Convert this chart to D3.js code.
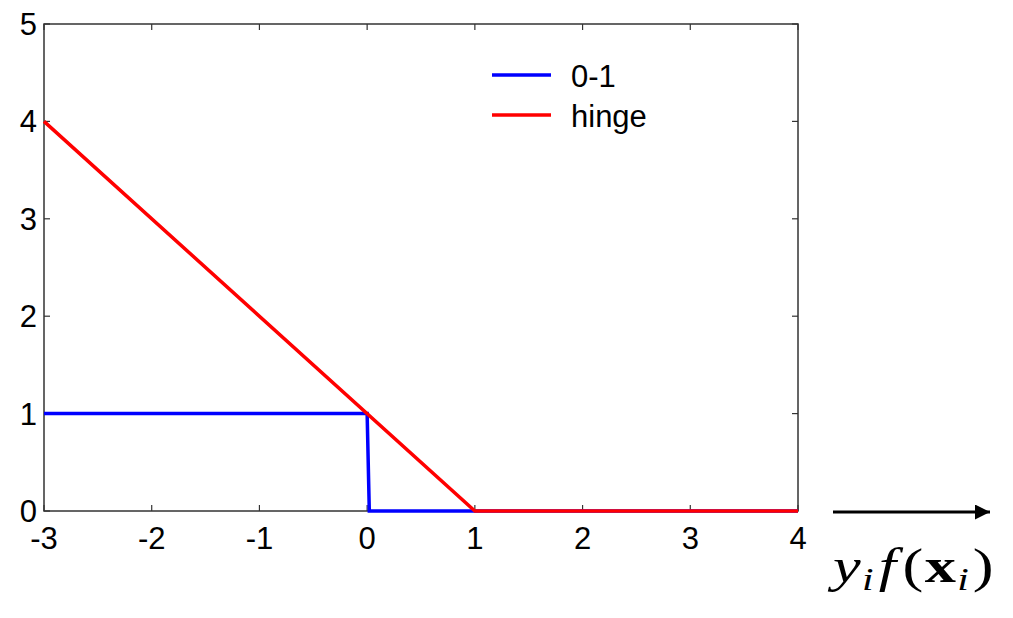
<!DOCTYPE html>
<html>
<head>
<meta charset="utf-8">
<script src="https://cdn.jsdelivr.net/npm/d3@7"></script>
<style>
  body { margin: 0; background: #fff; }
  svg { display: block; }
</style>
</head>
<body>
<div id="chart"></div>
<script>
"use strict";

// tick values
const xTicks = [-3, -2, -1, 0, 1, 2, 3, 4];
const yTicks = [0, 1, 2, 3, 4, 5];

// loss curves
const zeroOneX = [-3, 0, 0.02, 4];
const zeroOneY = [1, 1, 0, 0];
const hingeX = [-3, 1, 4];
const hingeY = [4, 0, 0];

const legendNames = ["0-1", "hinge"];
const legendColors = ["#0000ff", "#ff0000"];

const W = 1013, H = 618;
const margin = { left: 44, right: 215, top: 24, bottom: 107 };

const svg = d3.select("#chart").append("svg")
    .attr("width", W)
    .attr("height", H);

const x = d3.scaleLinear().domain([-3, 4]).range([margin.left, W - margin.right]);
const y = d3.scaleLinear().domain([0, 5]).range([H - margin.bottom, margin.top]);

const font = "'Liberation Sans', Arial, sans-serif";
const fs = "31px";

// frame
svg.append("rect")
    .attr("x", x(-3)).attr("y", y(5))
    .attr("width", x(4) - x(-3)).attr("height", y(0) - y(5))
    .attr("fill", "none").attr("stroke", "#333").attr("stroke-width", 1.5);

// inward ticks on all four sides
const tk = 6;
xTicks.forEach(function (t) {
    svg.append("line").attr("x1", x(t)).attr("x2", x(t))
        .attr("y1", y(0)).attr("y2", y(0) - tk)
        .attr("stroke", "#333").attr("stroke-width", 1.2);
    svg.append("line").attr("x1", x(t)).attr("x2", x(t))
        .attr("y1", y(5)).attr("y2", y(5) + tk)
        .attr("stroke", "#333").attr("stroke-width", 1.2);
    svg.append("text").attr("x", x(t)).attr("y", y(0) + 38)
        .attr("text-anchor", "middle")
        .style("font-family", font).style("font-size", fs)
        .text(t);
});
yTicks.forEach(function (t) {
    svg.append("line").attr("x1", x(-3)).attr("x2", x(-3) + tk)
        .attr("y1", y(t)).attr("y2", y(t))
        .attr("stroke", "#333").attr("stroke-width", 1.2);
    svg.append("line").attr("x1", x(4)).attr("x2", x(4) - tk)
        .attr("y1", y(t)).attr("y2", y(t))
        .attr("stroke", "#333").attr("stroke-width", 1.2);
    svg.append("text").attr("x", x(-3) - 7).attr("y", y(t) + 11)
        .attr("text-anchor", "end")
        .style("font-family", font).style("font-size", fs)
        .text(t);
});

// curves
const line = d3.line().x(d => x(d[0])).y(d => y(d[1]));
svg.append("path")
    .datum(d3.zip(zeroOneX, zeroOneY))
    .attr("d", line)
    .attr("fill", "none").attr("stroke", legendColors[0]).attr("stroke-width", 3.5);
svg.append("path")
    .datum(d3.zip(hingeX, hingeY))
    .attr("d", line)
    .attr("fill", "none").attr("stroke", legendColors[1]).attr("stroke-width", 3.5);

// legend
legendNames.forEach(function (name, i) {
    const ly = 75 + i * 40;
    svg.append("line").attr("x1", 492).attr("x2", 551)
        .attr("y1", ly).attr("y2", ly)
        .attr("stroke", legendColors[i]).attr("stroke-width", 3.5);
    svg.append("text").attr("x", 571).attr("y", ly + 12)
        .style("font-family", font).style("font-size", fs)
        .text(name);
});

// arrow beside the x axis
svg.append("defs").append("marker")
    .attr("id", "arrow")
    .attr("viewBox", "0 0 10 10")
    .attr("refX", 10).attr("refY", 5)
    .attr("markerUnits", "userSpaceOnUse")
    .attr("markerWidth", 18).attr("markerHeight", 15)
    .attr("orient", "auto")
    .append("path").attr("d", "M0,0L10,5L0,10Z").attr("fill", "#000");
svg.append("line")
    .attr("x1", 833).attr("x2", 990)
    .attr("y1", 512).attr("y2", 512)
    .attr("stroke", "#000").attr("stroke-width", 3)
    .attr("marker-end", "url(#arrow)");

// axis label y_i f(x_i), stretched a bit to match the TeX glyph widths
const lab = svg.append("text")
    .attr("transform", "translate(833,582) scale(1.3,1)")
    .style("font-family", "'Liberation Serif', 'DejaVu Serif', serif")
    .style("font-size", "48px");
lab.append("tspan").style("font-style", "italic").text("y");
lab.append("tspan").style("font-style", "italic").style("font-size", "32px")
    .attr("dy", 8).attr("dx", 1).text("i");
lab.append("tspan").style("font-style", "italic").attr("dy", -8).attr("dx", 4).text("f");
lab.append("tspan").attr("dx", 5).text("(");
lab.append("tspan").style("font-weight", "bold").attr("dx", 1).text("x");
lab.append("tspan").style("font-style", "italic").style("font-size", "32px")
    .attr("dy", 8).attr("dx", 1).text("i");
lab.append("tspan").attr("dy", -8).attr("dx", 3).text(")");
</script>
</body>
</html>
